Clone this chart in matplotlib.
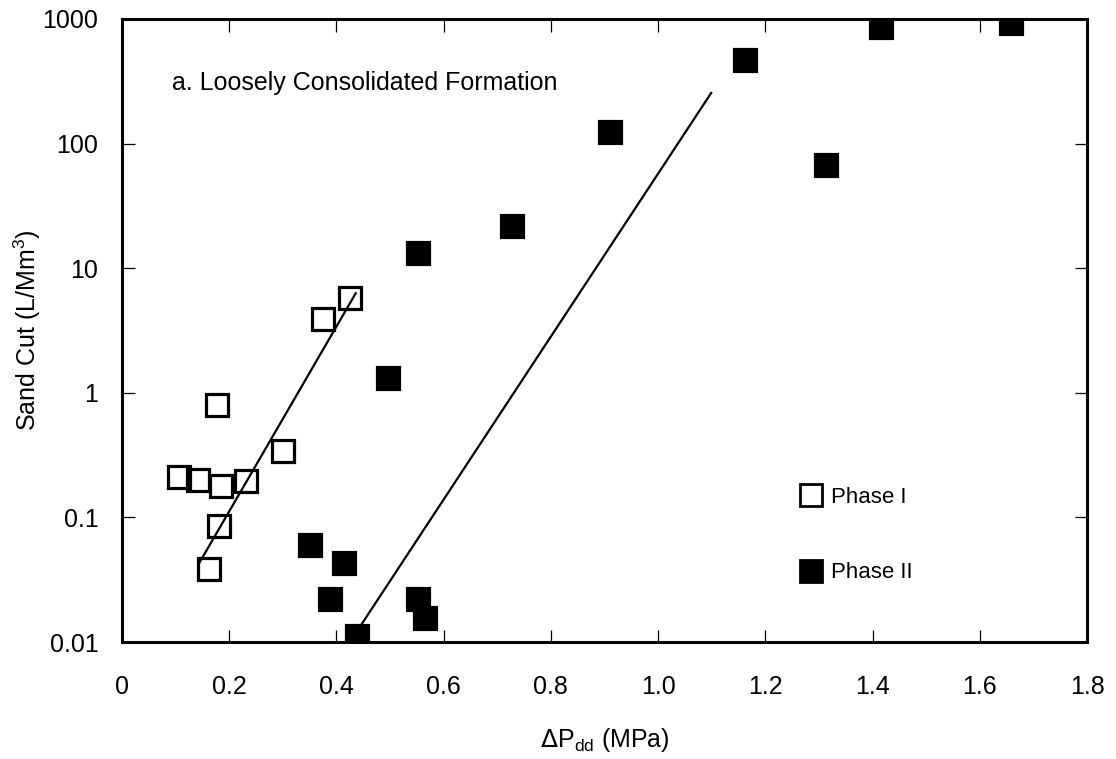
import matplotlib
matplotlib.use("Agg")
import matplotlib.pyplot as plt
from matplotlib.lines import Line2D

plt.rcParams["font.family"] = ["Liberation Sans", "DejaVu Sans"]

# Phase I (open squares)
phase1_x = [0.106, 0.141, 0.184, 0.231, 0.300, 0.177, 0.180, 0.162, 0.374, 0.425]
phase1_y = [0.21, 0.20, 0.18, 0.195, 0.34, 0.80, 0.085, 0.0385, 3.9, 5.8]

# Phase II (filled squares)
phase2_x = [0.439, 0.388, 0.351, 0.414, 0.553, 0.566, 0.497, 0.553, 0.728, 0.910, 1.162, 1.313, 1.416, 1.658]
phase2_y = [0.0112, 0.022, 0.060, 0.043, 0.022, 0.0155, 1.32, 13.3, 22, 124, 469, 67, 863, 929]

# fitted trend lines (end points)
fit1_x = [0.144, 0.436]
fit1_y = [0.043, 6.3]
fit2_x = [0.444, 1.099]
fit2_y = [0.0133, 255]

xticks = [0, 0.2, 0.4, 0.6, 0.8, 1.0, 1.2, 1.4, 1.6, 1.8]
xticklabels = ["0", "0.2", "0.4", "0.6", "0.8", "1.0", "1.2", "1.4", "1.6", "1.8"]
yticks = [0.01, 0.1, 1, 10, 100, 1000]
yticklabels = ["0.01", "0.1", "1", "10", "100", "1000"]

fig = plt.figure(figsize=(11.16, 7.59), dpi=100)
ax = fig.add_axes([122 / 1116, 1 - 642 / 759, (1087 - 122) / 1116, (642 - 19) / 759])

ax.plot(fit1_x, fit1_y, color="black", lw=1.6, zorder=2)
ax.plot(fit2_x, fit2_y, color="black", lw=1.6, zorder=2)

ax.plot(phase1_x, phase1_y, ls="none", marker="s", ms=16.5, mew=2.3,
        mfc="none", mec="black", zorder=3)
ax.plot(phase2_x, phase2_y, ls="none", marker="s", ms=16.5, mew=2.3,
        mfc="black", mec="black", zorder=3)

ax.set_yscale("log")
ax.set_xlim(0, 1.8)
ax.set_ylim(0.01, 1000)
ax.set_xticks(xticks)
ax.set_xticklabels(xticklabels)
ax.set_yticks(yticks)
ax.set_yticklabels(yticklabels)
ax.yaxis.set_minor_locator(matplotlib.ticker.NullLocator())

ax.tick_params(axis="both", which="major", direction="in", top=True, right=True,
               length=9, width=0.9, labelsize=18)
ax.tick_params(axis="x", pad=24)
ax.tick_params(axis="y", pad=17)
for sp in ax.spines.values():
    sp.set_linewidth(2.2)

ax.set_xlabel(r"$\Delta$P$_{\mathregular{dd}}$ (MPa)", fontsize=18, labelpad=19)
ax.set_ylabel(r"Sand Cut (L/Mm$^{\mathregular{3}}$)", fontsize=18, labelpad=0)

ax.text((172 - 122) / 965, 1 - (83 - 19) / 623, "a. Loosely Consolidated Formation",
        transform=ax.transAxes, fontsize=18, va="center", ha="left")

handles = [
    Line2D([], [], ls="none", marker="s", ms=16, mew=2, mfc="none", mec="black"),
    Line2D([], [], ls="none", marker="s", ms=16, mew=2, mfc="black", mec="black"),
]
ax.legend(handles, ["Phase I", "Phase II"], loc="upper left",
          bbox_to_anchor=((798 - 122) / 965, 1 - (487 - 19) / 623),
          frameon=False, fontsize=16, labelspacing=2.45, handletextpad=0.3,
          handlelength=1.2, borderpad=0, borderaxespad=0)

fig.savefig("out.png", dpi=100)
